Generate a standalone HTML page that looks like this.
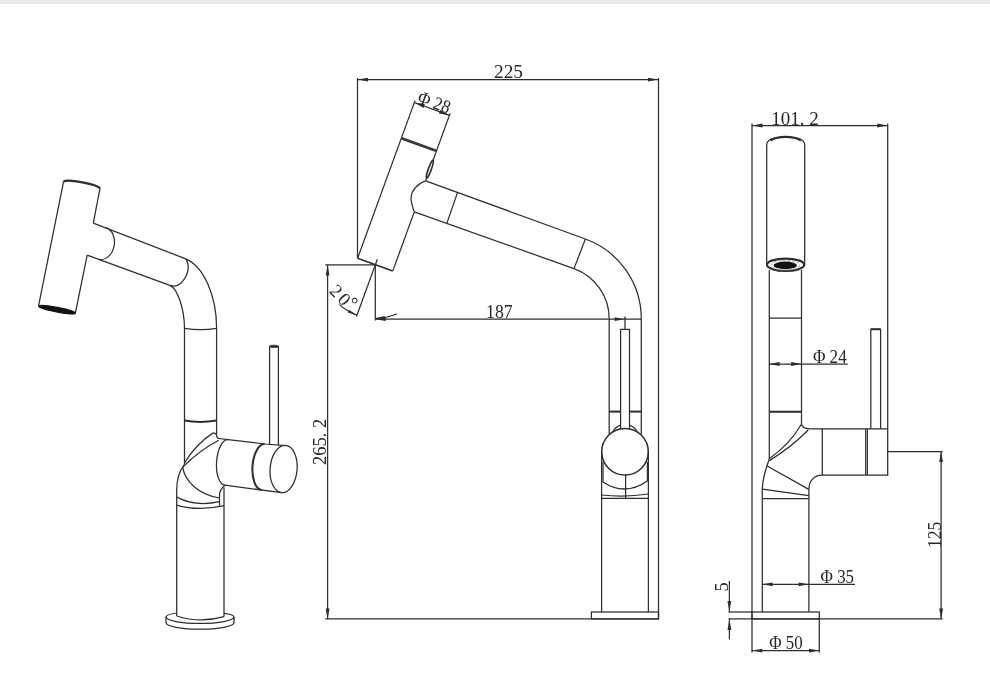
<!DOCTYPE html>
<html lang="en"><head><meta charset="utf-8"><title>Faucet dimension drawing</title>
<style>
html,body{margin:0;padding:0;background:#fff;}
body{width:990px;height:700px;overflow:hidden;position:relative;}
.bar{position:absolute;left:0;top:0;width:990px;height:4px;background:#ececec;}
svg{position:absolute;left:0;top:0;display:block;will-change:transform;}
svg text{font-family:"Liberation Serif","DejaVu Serif",serif;fill:#262626;}
</style></head><body>
<div class="bar"></div>
<svg width="990" height="700" viewBox="0 0 990 700" stroke-linecap="butt">
<line x1="63.60" y1="181.40" x2="38.60" y2="305.70" stroke="#2e2e2e" stroke-width="1.25"/>
<line x1="100.00" y1="188.30" x2="93.30" y2="223.10" stroke="#2e2e2e" stroke-width="1.25"/>
<line x1="87.20" y1="255.20" x2="75.40" y2="312.90" stroke="#2e2e2e" stroke-width="1.25"/>
<path d="M63.6,181.6 A18.7,3.2 10.7 0 1 100.0,188.5" stroke="#2e2e2e" stroke-width="2.4" fill="none" />
<ellipse cx="57" cy="309.7" rx="18.8" ry="2.4" transform="rotate(11 57 309.7)" fill="#111" stroke="#111" stroke-width="1"/>
<line x1="93.30" y1="223.10" x2="185.60" y2="258.80" stroke="#2e2e2e" stroke-width="1.25"/>
<line x1="87.20" y1="255.20" x2="169.90" y2="285.30" stroke="#2e2e2e" stroke-width="1.25"/>
<path d="M105.5,227.6 A16.2,12.3 100 0 1 98.5,259.4" stroke="#2e2e2e" stroke-width="1.25" fill="none" />
<path d="M185.6,258.8 C189.8,264 189.2,275 181,283 C177.5,286.2 173,286.6 169.9,285.3" stroke="#2e2e2e" stroke-width="1.25" fill="none" />
<path d="M185.6,258.8 C203.5,265.8 216.6,296 216.6,328 L216.6,434.5" stroke="#2e2e2e" stroke-width="1.25" fill="none" />
<path d="M169.9,285.3 C177,288 184.5,308 184.5,329 L184.5,464.6" stroke="#2e2e2e" stroke-width="1.25" fill="none" />
<path d="M184.5,328.3 Q200.5,331 216.6,328.3" stroke="#2e2e2e" stroke-width="1.25" fill="none" />
<path d="M184.3,420.6 Q200.3,423.2 216.5,420.6" stroke="#2e2e2e" stroke-width="2" fill="none" />
<path d="M269.6,444.6 L269.6,346.5 L278.4,346.5 L278.4,445.3" stroke="#2e2e2e" stroke-width="1.25" fill="none" />
<ellipse cx="274" cy="346.3" rx="4.4" ry="1.1" fill="#2e2e2e" stroke="#2e2e2e" stroke-width="0.8"/>
<path d="M216.5,434.5 C216.6,437 217.3,438.3 218.7,438.5 L228.1,439.7 L264.7,444 L285.6,445.6" stroke="#2e2e2e" stroke-width="1.25" fill="none" />
<path d="M228.1,439.7 A22.8,10 93.9 0 0 225,485.2" stroke="#2e2e2e" stroke-width="1.25" fill="none" />
<path d="M225,485.2 L281.4,492.6" stroke="#2e2e2e" stroke-width="1.25" fill="none" />
<path d="M264.7,444 A22.8,10.6 93.9 0 0 261.6,489.9" stroke="#2e2e2e" stroke-width="2" fill="none" />
<ellipse cx="283.6" cy="469" rx="13.5" ry="23.7" transform="rotate(5 283.6 469)" fill="none" stroke="#2e2e2e" stroke-width="1.25"/>
<path d="M184.3,464.6 C180,470 176.7,480 176.7,490 L176.7,616" stroke="#2e2e2e" stroke-width="1.25" fill="none" />
<path d="M213.2,432.9 Q196,444 184.3,463" stroke="#2e2e2e" stroke-width="1.25" fill="none" />
<path d="M213.2,432.9 Q215,433 216.5,434.5" stroke="#2e2e2e" stroke-width="1.25" fill="none" />
<path d="M218.7,440.3 Q200,450 182.6,467.2" stroke="#2e2e2e" stroke-width="1.25" fill="none" />
<path d="M182.6,467.2 C185,481 198,494.5 219.5,498" stroke="#2e2e2e" stroke-width="1.25" fill="none" />
<path d="M225,485.2 C221.5,488 219.5,491 219.5,495.5 L219.5,505.8" stroke="#2e2e2e" stroke-width="1.25" fill="none" />
<path d="M224,487.5 L224,616.7" stroke="#2e2e2e" stroke-width="1.25" fill="none" />
<path d="M176.7,497.1 Q195.7,507 219.5,501.7" stroke="#2e2e2e" stroke-width="1.25" fill="none" />
<path d="M176.7,505.1 Q198,511.5 224,505.6" stroke="#2e2e2e" stroke-width="1.25" fill="none" />
<path d="M176.7,616 Q200.3,623.5 224,616.7" stroke="#2e2e2e" stroke-width="1.25" fill="none" />
<path d="M176.7,613 C170,614 166,615.5 166,617 L166,622.8 A34,6.4 0 0 0 234,622.8 L234,617 C234,615.5 230,614 224,613.3" stroke="#2e2e2e" stroke-width="1.25" fill="none" />
<path d="M166,617 A34,6.4 0 0 0 234,617" stroke="#2e2e2e" stroke-width="1.25" fill="none" />
<line x1="357.60" y1="258.30" x2="392.74" y2="271.09" stroke="#2e2e2e" stroke-width="1.6"/>
<line x1="357.60" y1="258.30" x2="414.99" y2="100.62" stroke="#2e2e2e" stroke-width="1.25"/>
<line x1="392.74" y1="271.09" x2="414.29" y2="211.89" stroke="#2e2e2e" stroke-width="1.25"/>
<line x1="425.61" y1="180.79" x2="450.14" y2="113.41" stroke="#2e2e2e" stroke-width="1.25"/>
<line x1="401.78" y1="138.38" x2="435.98" y2="150.83" stroke="#3a3a3a" stroke-width="2.7"/>
<line x1="414.31" y1="102.50" x2="449.45" y2="115.29" stroke="#2e2e2e" stroke-width="1.25"/>
<polygon points="414.31,102.50 424.82,104.30 423.52,107.88" fill="#2e2e2e"/>
<polygon points="449.45,115.29 438.93,113.48 440.23,109.91" fill="#2e2e2e"/>
<text x="432.22" y="107.96" font-size="18.5" text-anchor="middle" textLength="33.5" lengthAdjust="spacingAndGlyphs" transform="rotate(20 432.22 107.96)">&#934; 28</text>
<ellipse cx="429.85" cy="169.13" rx="1.5" ry="9.6" transform="rotate(20 429.85 169.13)" fill="#fff" stroke="#2e2e2e" stroke-width="1.6"/>
<path d="M425.61,180.79 C418,184 411.5,190 411,198 C411,203 413,208 414.29,211.89" stroke="#2e2e2e" stroke-width="1.25" fill="none" />
<line x1="425.61" y1="180.79" x2="585.40" y2="239.00" stroke="#2e2e2e" stroke-width="1.25"/>
<line x1="414.29" y1="211.89" x2="574.00" y2="268.60" stroke="#2e2e2e" stroke-width="1.25"/>
<line x1="457.60" y1="192.40" x2="447.00" y2="222.90" stroke="#2e2e2e" stroke-width="1.25"/>
<line x1="585.40" y1="239.00" x2="574.00" y2="268.60" stroke="#2e2e2e" stroke-width="1.25"/>
<path d="M585.4,239 A85,85 0 0 1 641.3,318.9 L641.3,434.6" stroke="#2e2e2e" stroke-width="1.25" fill="none" />
<path d="M574,268.6 A53.5,53.5 0 0 1 609.2,318.9 L609.2,434.6" stroke="#2e2e2e" stroke-width="1.25" fill="none" />
<path d="M620.6,429 L620.6,329.3 L629.5,329.3 L629.5,429" stroke="#2e2e2e" stroke-width="1.25" fill="none" />
<line x1="625.00" y1="316.50" x2="625.00" y2="329.30" stroke="#2e2e2e" stroke-width="1.25"/>
<line x1="609.20" y1="411.60" x2="620.60" y2="411.60" stroke="#2e2e2e" stroke-width="2"/>
<line x1="629.50" y1="411.60" x2="641.30" y2="411.60" stroke="#2e2e2e" stroke-width="2"/>
<circle cx="625" cy="451.8" r="23.3" fill="none" stroke="#2e2e2e" stroke-width="1.5"/>
<path d="M612.8,432 Q615,427 620.6,425.2" stroke="#2e2e2e" stroke-width="1.25" fill="none" />
<path d="M629.5,425.2 Q635,427 637.2,432" stroke="#2e2e2e" stroke-width="1.25" fill="none" />
<line x1="601.60" y1="451.80" x2="601.60" y2="612.00" stroke="#2e2e2e" stroke-width="1.25"/>
<line x1="648.40" y1="451.80" x2="648.40" y2="612.00" stroke="#2e2e2e" stroke-width="1.25"/>
<path d="M603,462 L603,482 Q625,496.5 647.4,481 L647.4,462" stroke="#2e2e2e" stroke-width="1.25" fill="none" />
<path d="M601.6,495 Q625,497.5 648.4,494" stroke="#2e2e2e" stroke-width="1.25" fill="none" />
<line x1="601.60" y1="498.40" x2="648.40" y2="498.40" stroke="#2e2e2e" stroke-width="1.25"/>
<line x1="625.60" y1="475.00" x2="625.60" y2="498.40" stroke="#2e2e2e" stroke-width="1.25"/>
<rect x="591.4" y="612" width="67.1" height="6.9" fill="none" stroke="#2e2e2e" stroke-width="1.25"/>
<line x1="325.30" y1="618.90" x2="658.50" y2="618.90" stroke="#2e2e2e" stroke-width="1.4"/>
<line x1="357.50" y1="78.00" x2="357.50" y2="258.30" stroke="#2e2e2e" stroke-width="1.25"/>
<line x1="658.50" y1="78.00" x2="658.50" y2="618.90" stroke="#2e2e2e" stroke-width="1.25"/>
<line x1="357.50" y1="79.60" x2="658.50" y2="79.60" stroke="#2e2e2e" stroke-width="1.25"/>
<polygon points="357.50,79.60 368.00,77.70 368.00,81.50" fill="#2e2e2e"/>
<polygon points="658.50,79.60 648.00,81.50 648.00,77.70" fill="#2e2e2e"/>
<text x="508.50" y="77.50" font-size="18.5" text-anchor="middle" textLength="29" lengthAdjust="spacingAndGlyphs">225</text>
<line x1="325.30" y1="264.90" x2="375.50" y2="264.90" stroke="#2e2e2e" stroke-width="1.25"/>
<line x1="327.60" y1="264.90" x2="327.60" y2="618.90" stroke="#2e2e2e" stroke-width="1.25"/>
<polygon points="327.60,264.90 329.50,275.40 325.70,275.40" fill="#2e2e2e"/>
<polygon points="327.60,618.90 325.70,608.40 329.50,608.40" fill="#2e2e2e"/>
<text x="326.50" y="441.80" font-size="18.5" text-anchor="middle" textLength="46.4" lengthAdjust="spacingAndGlyphs" transform="rotate(-90 326.50 441.80)">265. 2</text>
<line x1="375.30" y1="264.90" x2="375.30" y2="320.50" stroke="#2e2e2e" stroke-width="1.25"/>
<line x1="375.30" y1="319.20" x2="641.30" y2="319.20" stroke="#2e2e2e" stroke-width="1.25"/>
<polygon points="375.30,319.20 385.80,317.30 385.80,321.10" fill="#2e2e2e"/>
<polygon points="624.60,319.20 614.60,321.10 614.60,317.30" fill="#2e2e2e"/>
<text x="499.40" y="318.00" font-size="18.5" text-anchor="middle" textLength="26.6" lengthAdjust="spacingAndGlyphs">187</text>
<line x1="375.30" y1="264.90" x2="356.49" y2="316.58" stroke="#2e2e2e" stroke-width="1.25"/>
<line x1="377.35" y1="259.26" x2="375.30" y2="264.90" stroke="#2e2e2e" stroke-width="1.25"/>
<path d="M339.50,304.66 A53.5,53.5 0 0 0 357.00,315.17" stroke="#2e2e2e" stroke-width="1.25" fill="none" />
<path d="M375.30,318.40 A53.5,53.5 0 0 0 397.06,313.77" stroke="#2e2e2e" stroke-width="1.25" fill="none" />
<polygon points="357.00,315.17 347.76,312.52 349.03,309.80" fill="#2e2e2e"/>
<polygon points="375.30,318.40 384.63,316.08 384.89,319.07" fill="#2e2e2e"/>
<text x="328.6" y="291.8" font-size="18.5" letter-spacing="2.4" transform="rotate(46 328.6 291.8)">20<tspan dx="-2.5" dy="-3.2">&#176;</tspan></text>
<line x1="752.00" y1="123.50" x2="752.00" y2="652.50" stroke="#2e2e2e" stroke-width="1.25"/>
<line x1="887.70" y1="123.50" x2="887.70" y2="428.80" stroke="#2e2e2e" stroke-width="1.25"/>
<line x1="752.00" y1="125.50" x2="887.70" y2="125.50" stroke="#2e2e2e" stroke-width="1.25"/>
<polygon points="752.00,125.50 762.50,123.60 762.50,127.40" fill="#2e2e2e"/>
<polygon points="887.70,125.50 877.20,127.40 877.20,123.60" fill="#2e2e2e"/>
<text x="795.00" y="125.00" font-size="18.5" text-anchor="middle" textLength="47.5" lengthAdjust="spacingAndGlyphs">101. 2</text>
<path d="M766.7,264.7 L766.7,145 C766.7,139.5 775,137.2 785.7,137.2 C796.4,137.2 804.7,139.5 804.7,145 L804.7,264.7" stroke="#2e2e2e" stroke-width="1.25" fill="none" />
<path d="M770.5,140.4 C775,137.6 780,136.9 785.7,136.9 C791.4,136.9 796.4,137.6 800.9,140.4" stroke="#2e2e2e" stroke-width="2.3" fill="none" />
<ellipse cx="785.6" cy="264.8" rx="18.6" ry="6.2" fill="#fff" stroke="#2e2e2e" stroke-width="2.2"/>
<ellipse cx="785.4" cy="265.2" rx="14.3" ry="4.9" fill="none" stroke="#999" stroke-width="0.8" stroke-dasharray="3 1.5"/>
<ellipse cx="785.3" cy="265.4" rx="11.7" ry="3.8" fill="#111"/>
<line x1="769.30" y1="270.00" x2="769.30" y2="459.50" stroke="#2e2e2e" stroke-width="1.25"/>
<line x1="801.50" y1="270.00" x2="801.50" y2="423.00" stroke="#2e2e2e" stroke-width="1.25"/>
<line x1="769.30" y1="318.20" x2="801.50" y2="318.20" stroke="#2e2e2e" stroke-width="1.25"/>
<line x1="769.30" y1="411.80" x2="801.50" y2="411.80" stroke="#2e2e2e" stroke-width="2"/>
<line x1="769.30" y1="364.00" x2="847.70" y2="364.00" stroke="#2e2e2e" stroke-width="1.25"/>
<polygon points="769.30,364.00 779.60,362.10 779.60,365.90" fill="#2e2e2e"/>
<polygon points="801.50,364.00 791.20,365.90 791.20,362.10" fill="#2e2e2e"/>
<text x="829.80" y="362.60" font-size="18.5" text-anchor="middle" textLength="33.8" lengthAdjust="spacingAndGlyphs">&#934; 24</text>
<path d="M870.8,428.8 L870.8,329.4 L880.6,329.4 L880.6,428.8" stroke="#2e2e2e" stroke-width="1.25" fill="none" />
<line x1="870.80" y1="329.20" x2="880.60" y2="329.20" stroke="#2e2e2e" stroke-width="2"/>
<path d="M801.4,423 C801.4,427 804,428.8 810.3,428.8 L887.7,428.8 L887.7,475.1 L822.3,475.1 C814,475.1 808.9,481 808.9,489.2 L808.9,612" stroke="#2e2e2e" stroke-width="1.25" fill="none" />
<line x1="822.30" y1="428.80" x2="822.30" y2="475.10" stroke="#2e2e2e" stroke-width="1.25"/>
<line x1="865.70" y1="428.80" x2="865.70" y2="475.10" stroke="#2e2e2e" stroke-width="1.25"/>
<line x1="867.40" y1="428.80" x2="867.40" y2="475.10" stroke="#2e2e2e" stroke-width="1.25"/>
<path d="M769.3,459 C766,468 762.3,478 762.3,489.2 L762.3,612" stroke="#2e2e2e" stroke-width="1.25" fill="none" />
<path d="M801.2,424.5 Q790,444 769.5,458.5" stroke="#2e2e2e" stroke-width="1.25" fill="none" />
<path d="M808.2,430 Q791.5,447 769.5,460.6" stroke="#2e2e2e" stroke-width="1.25" fill="none" />
<line x1="767.10" y1="466.00" x2="808.80" y2="489.40" stroke="#2e2e2e" stroke-width="1.25"/>
<line x1="762.30" y1="489.20" x2="808.90" y2="495.70" stroke="#2e2e2e" stroke-width="1.25"/>
<line x1="762.30" y1="498.60" x2="808.90" y2="498.60" stroke="#2e2e2e" stroke-width="1.25"/>
<rect x="752" y="612" width="67.3" height="6.9" fill="none" stroke="#2e2e2e" stroke-width="1.25"/>
<line x1="728.50" y1="612.00" x2="752.00" y2="612.00" stroke="#2e2e2e" stroke-width="1.25"/>
<line x1="728.50" y1="618.90" x2="942.60" y2="618.90" stroke="#2e2e2e" stroke-width="1.25"/>
<line x1="819.30" y1="618.90" x2="819.30" y2="652.50" stroke="#2e2e2e" stroke-width="1.25"/>
<line x1="729.40" y1="581.00" x2="729.40" y2="612.00" stroke="#2e2e2e" stroke-width="1.25"/>
<polygon points="729.40,612.00 727.50,601.00 731.30,601.00" fill="#2e2e2e"/>
<line x1="729.40" y1="618.90" x2="729.40" y2="639.50" stroke="#2e2e2e" stroke-width="1.25"/>
<polygon points="729.40,618.90 731.30,629.90 727.50,629.90" fill="#2e2e2e"/>
<text x="727.70" y="586.80" font-size="18.5" text-anchor="middle" transform="rotate(-90 727.70 586.80)">5</text>
<line x1="762.30" y1="584.30" x2="855.00" y2="584.30" stroke="#2e2e2e" stroke-width="1.25"/>
<polygon points="762.30,584.30 772.60,582.40 772.60,586.20" fill="#2e2e2e"/>
<polygon points="808.90,584.30 798.60,586.20 798.60,582.40" fill="#2e2e2e"/>
<text x="837.30" y="583.00" font-size="18.5" text-anchor="middle" textLength="33.5" lengthAdjust="spacingAndGlyphs">&#934; 35</text>
<line x1="752.00" y1="650.60" x2="819.30" y2="650.60" stroke="#2e2e2e" stroke-width="1.25"/>
<polygon points="752.00,650.60 762.30,648.70 762.30,652.50" fill="#2e2e2e"/>
<polygon points="819.30,650.60 809.00,652.50 809.00,648.70" fill="#2e2e2e"/>
<text x="785.90" y="649.40" font-size="18.5" text-anchor="middle" textLength="33.4" lengthAdjust="spacingAndGlyphs">&#934; 50</text>
<line x1="887.70" y1="451.60" x2="942.60" y2="451.60" stroke="#2e2e2e" stroke-width="1.25"/>
<line x1="941.10" y1="451.60" x2="941.10" y2="618.90" stroke="#2e2e2e" stroke-width="1.25"/>
<polygon points="941.10,451.60 943.00,462.10 939.20,462.10" fill="#2e2e2e"/>
<polygon points="941.10,618.90 939.20,608.40 943.00,608.40" fill="#2e2e2e"/>
<text x="940.70" y="534.80" font-size="18.5" text-anchor="middle" textLength="26.4" lengthAdjust="spacingAndGlyphs" transform="rotate(-90 940.70 534.80)">125</text>
</svg>
</body></html>
